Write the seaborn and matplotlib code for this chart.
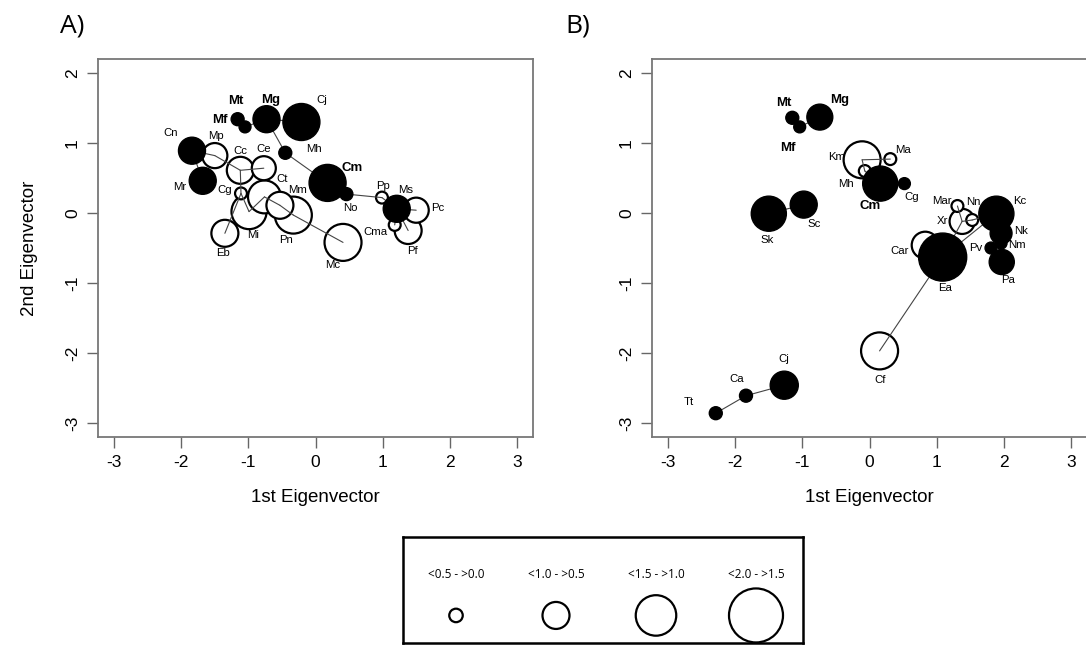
import numpy as np
import pandas as pd
import seaborn as sns
import matplotlib.pyplot as plt

# ---- panel A data ----
a_names = ["Mt", "Mf", "Mg", "Cj", "Mh", "Cn", "Mp", "Mr", "Cc", "Ce", "Cg", "Ct",
           "Mi", "Mm", "Pn", "Eb", "Cm", "No", "Pp", "Ms", "Pc", "Cma", "Pf", "Mc"]
a_x = [-1.16, -1.05, -0.73, -0.21, -0.45, -1.84, -1.50, -1.68, -1.12, -0.77, -1.11, -0.76,
       -0.99, -0.53, -0.33, -1.35, 0.18, 0.46, 0.99, 1.21, 1.50, 1.18, 1.38, 0.41]
a_y = [1.34, 1.23, 1.34, 1.30, 0.86, 0.89, 0.82, 0.46, 0.61, 0.64, 0.28, 0.23,
       0.02, 0.11, -0.03, -0.29, 0.43, 0.27, 0.22, 0.06, 0.04, -0.17, -0.25, -0.42]
a_size = [0.48, 0.44, 1.0, 1.37, 0.48, 1.0, 0.93, 1.0, 1.0, 0.89, 0.44, 1.22,
          1.30, 1.0, 1.37, 1.0, 1.37, 0.48, 0.44, 1.0, 0.93, 0.44, 1.0, 1.37]
a_filled = [1, 1, 1, 1, 1, 1, 0, 1, 0, 0, 0, 0,
            0, 0, 0, 0, 1, 1, 0, 1, 0, 0, 0, 0]
a_edges = [("Mt", "Mf"), ("Mf", "Mg"), ("Mg", "Cj"), ("Mg", "Mh"), ("Mh", "Cm"),
           ("Cm", "No"), ("No", "Pp"), ("Pp", "Ms"), ("Ms", "Pc"), ("Ms", "Cma"),
           ("Ms", "Pf"), ("Cn", "Mp"), ("Cn", "Mr"), ("Mp", "Cc"), ("Cc", "Ce"),
           ("Cc", "Cg"), ("Cg", "Eb"), ("Cg", "Mi"), ("Mi", "Ct"), ("Ct", "Mm"),
           ("Mm", "Pn"), ("Pn", "Mc")]

# ---- panel B data ----
b_names = ["Mt", "Mf", "Mg", "Km", "Mh", "Ma", "Cm", "Cg", "Sk", "Sc", "Mar", "Xr",
           "Nn", "Kc", "Nk", "Nm", "Pv", "Pa", "Car", "Ea", "Cf", "Cj", "Ca", "Tt"]
b_x = [-1.15, -1.04, -0.74, -0.11, -0.07, 0.31, 0.16, 0.52, -1.50, -0.98, 1.31, 1.38,
       1.53, 1.89, 1.96, 1.96, 1.81, 1.97, 0.83, 1.09, 0.15, -1.27, -1.84, -2.29]
b_y = [1.36, 1.23, 1.37, 0.76, 0.60, 0.77, 0.42, 0.42, -0.01, 0.12, 0.10, -0.12,
       -0.10, -0.01, -0.29, -0.43, -0.50, -0.70, -0.46, -0.63, -1.97, -2.46, -2.61, -2.86]
b_size = [0.48, 0.44, 0.96, 1.37, 0.44, 0.44, 1.30, 0.44, 1.30, 1.0, 0.44, 0.93,
          0.44, 1.30, 0.81, 0.44, 0.44, 0.93, 1.0, 1.78, 1.37, 1.04, 0.48, 0.48]
b_filled = [1, 1, 1, 0, 0, 0, 1, 1, 1, 1, 0, 0,
            0, 1, 1, 1, 1, 1, 0, 1, 0, 1, 1, 1]
b_edges = [("Mt", "Mf"), ("Mf", "Mg"), ("Km", "Ma"), ("Km", "Mh"), ("Mh", "Cm"),
           ("Cm", "Cg"), ("Sk", "Sc"), ("Mar", "Xr"), ("Xr", "Nn"), ("Nn", "Kc"),
           ("Kc", "Nk"), ("Nk", "Nm"), ("Nm", "Pa"), ("Pv", "Pa"), ("Car", "Ea"),
           ("Xr", "Ea"), ("Ea", "Kc"), ("Ea", "Cf"), ("Tt", "Ca"), ("Ca", "Cj")]

legend_labels = ["<0.5 - >0.0", "<1.0 - >0.5", "<1.5 - >1.0", "<2.0 - >1.5"]
legend_sizes = [0.5, 1.0, 1.5, 2.0]
bold_names = {"Mt", "Mf", "Mg", "Cm"}

# label offsets from the circle centre, pixels (right, down)
a_offsets = {"Mt": (-2, -18), "Mf": (-25, -7), "Mg": (4, -19), "Cj": (20, -22),
             "Mh": (29, -4), "Cn": (-21, -18), "Mp": (1, -20), "Mr": (-23, 6),
             "Cc": (0, -19), "Ce": (0, -19), "Cg": (-16, -3), "Ct": (18, -18),
             "Mi": (4, 23), "Mm": (18, -15), "Pn": (-7, 25), "Eb": (-2, 20),
             "Cm": (25, -15), "No": (4, 14), "Pp": (1, -12), "Ms": (9, -19),
             "Pc": (22, -2), "Cma": (-19, 7), "Pf": (4, 20), "Mc": (-10, 23)}
b_offsets = {"Mt": (-8, -15), "Mf": (-12, 21), "Mg": (20, -17), "Km": (-25, -3),
             "Mh": (-19, 13), "Ma": (13, -9), "Cm": (-10, 22), "Cg": (7, 13),
             "Sk": (-2, 26), "Sc": (10, 19), "Mar": (-16, -5), "Nn": (1, -18),
             "Xr": (-20, 0), "Kc": (23, -13), "Nk": (20, -2), "Nm": (16, 2),
             "Pv": (-15, 0), "Pa": (6, 18), "Car": (-26, 6), "Ea": (2, 31),
             "Cf": (1, 29), "Cj": (0, -26), "Ca": (-9, -17), "Tt": (-27, -11)}

PX_PER_UNIT = 27  # circle diameter (px) per unit of size


def area(v):
    return (PX_PER_UNIT * np.asarray(v, dtype=float) * 0.72) ** 2


sns.set_style("ticks")
plt.rcParams["font.family"] = ["Liberation Sans", "DejaVu Sans"]
plt.rcParams["axes.unicode_minus"] = False
plt.rcParams["text.color"] = "black"
plt.rcParams["axes.labelcolor"] = "black"
plt.rcParams["xtick.color"] = "black"
plt.rcParams["ytick.color"] = "black"

fig = plt.figure(figsize=(10.86, 6.45), dpi=100)
W, H = 1086, 645


def draw_panel(ax, names, xs, ys, sizes, filled, edges, offsets):
    df = pd.DataFrame({"name": names, "x": xs, "y": ys, "size": sizes,
                       "filled": np.array(filled, dtype=bool)})
    df["area"] = area(df["size"])
    pos = df.set_index("name")
    white = df[~df["filled"]].sort_values("size", ascending=False)
    black = df[df["filled"]].sort_values("size", ascending=False)
    sns.scatterplot(data=white, x="x", y="y", s=white["area"].values, color="white",
                    edgecolor="black", linewidth=1.6, ax=ax, zorder=2, legend=False)
    for a, b in edges:
        ax.plot(pos.loc[[a, b], "x"], pos.loc[[a, b], "y"], color="#444444",
                lw=0.8, zorder=3)
    sns.scatterplot(data=black, x="x", y="y", s=black["area"].values, color="black",
                    edgecolor="black", linewidth=1.0, ax=ax, zorder=4, legend=False)
    for _, r in df.iterrows():
        dx, dy = offsets[r["name"]]
        isbold = r["name"] in bold_names
        ax.annotate(r["name"], (r["x"], r["y"]), xytext=(dx, -dy),
                    textcoords="offset pixels", ha="center", va="center",
                    fontsize=9.5 if isbold else 8.2,
                    fontweight="bold" if isbold else "normal", zorder=5)

    ax.set_xlim(-3.24, 3.24)
    ax.set_ylim(-3.2, 2.2)
    ax.set_xticks(range(-3, 4))
    ax.set_yticks(range(-3, 3))
    ax.set_yticklabels([str(v) for v in range(-3, 3)], rotation=90, va="center")
    ax.tick_params(direction="out", length=8, width=1, color="#666666",
                   labelsize=12.5, pad=5)
    for sp in ax.spines.values():
        sp.set_visible(True)
        sp.set_color("#777777")
        sp.set_linewidth(1.3)
    ax.set_xlabel("1st Eigenvector", fontsize=13.5)
    ax.xaxis.set_label_coords(0.5, (437 - 497) / 378)
    ax.xaxis.label.set_va("center")


axA = fig.add_axes([98 / W, 1 - 437 / H, 435 / W, 378 / H])
draw_panel(axA, a_names, a_x, a_y, a_size, a_filled, a_edges, a_offsets)
axA.set_ylabel("2nd Eigenvector", fontsize=13.5)
axA.yaxis.set_label_coords((30 - 98) / 435, 0.5)
axA.yaxis.label.set_va("center")

axB = fig.add_axes([652 / W, 1 - 437 / H, 435 / W, 378 / H])
draw_panel(axB, b_names, b_x, b_y, b_size, b_filled, b_edges, b_offsets)
axB.set_ylabel("")

fig.text(72 / W, 1 - 26 / H, "A)", fontsize=19, family="Open Sans",
         ha="center", va="center")
fig.text(578 / W, 1 - 26 / H, "B)", fontsize=19, family="Open Sans",
         ha="center", va="center")

# size legend
axL = fig.add_axes([403 / W, 1 - 643 / H, 400 / W, 106 / H])
leg = pd.DataFrame({"x": np.arange(len(legend_sizes)) + 0.53,
                    "y": 0.26, "size": legend_sizes})
sns.scatterplot(data=leg, x="x", y="y", s=area(leg["size"]), color="white",
                edgecolor="black", linewidth=1.6, ax=axL, legend=False)
for xi, lab in zip(leg["x"], legend_labels):
    axL.text(xi, 0.65, lab, ha="center", va="center", fontsize=8.5,
             family="Open Sans")
axL.set_xlim(0, 4)
axL.set_ylim(0, 1)
axL.set_xticks([])
axL.set_yticks([])
axL.set_xlabel("")
axL.set_ylabel("")
for sp in axL.spines.values():
    sp.set_visible(True)
    sp.set_color("black")
    sp.set_linewidth(1.8)

fig.savefig("out.png", dpi=100)
